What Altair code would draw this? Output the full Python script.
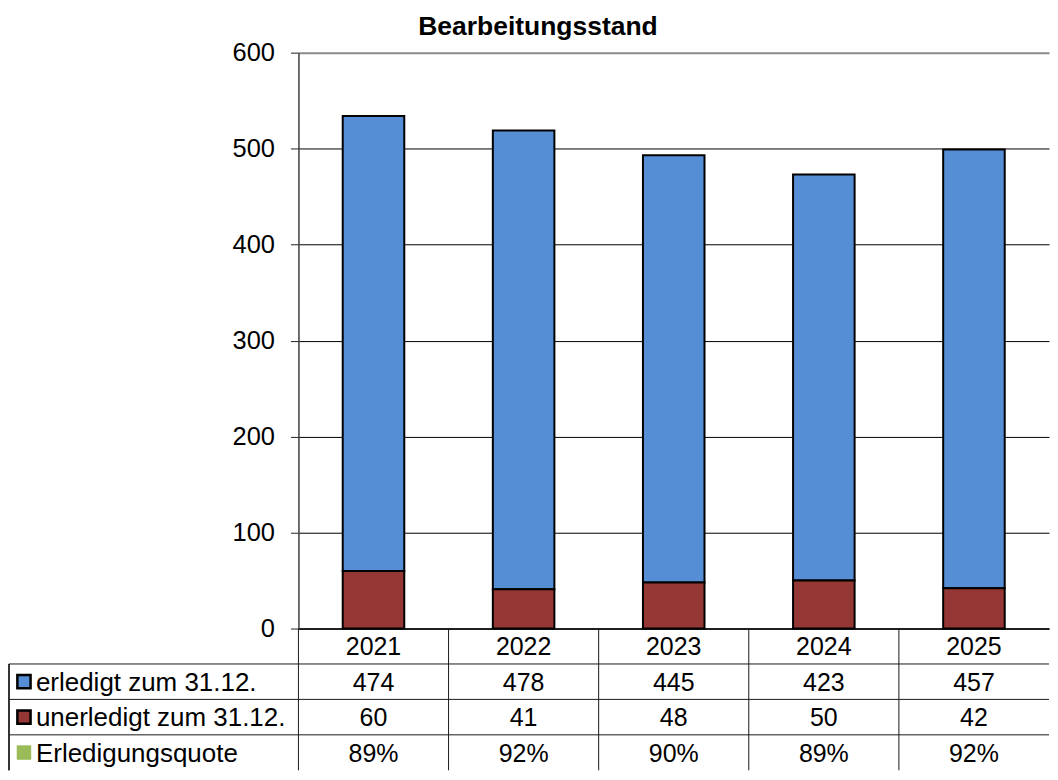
import altair as alt
import pandas as pd

# ---- data ----
years = ["2021", "2022", "2023", "2024", "2025"]
erledigt = [474, 478, 445, 423, 457]
unerledigt = [60, 41, 48, 50, 42]
quote = ["89%", "92%", "90%", "89%", "92%"]
series = ["erledigt zum 31.12.", "unerledigt zum 31.12.", "Erledigungsquote"]
colors = ["#558ED5", "#953735", "#9BBB59"]
chart_title = "Bearbeitungsstand"
y_ticks = [0, 100, 200, 300, 400, 500, 600]

FONT = "Liberation Sans"
W = 752
H = 577
ROW = 35.5
TH = ROW * 4
LEFT = 290
rows = ["Jahr"] + series

bars = pd.DataFrame({
    "year": years * 2,
    "series": [series[0]] * len(years) + [series[1]] * len(years),
    "value": erledigt + unerledigt,
    "order": [2] * len(years) + [1] * len(years),
})

color_scale = alt.Scale(domain=series, range=colors)

bar_chart = alt.Chart(bars).mark_bar(stroke="black", strokeWidth=2).encode(
    x=alt.X("year:N", sort=years,
            scale=alt.Scale(paddingInner=0.59, paddingOuter=0.295),
            axis=alt.Axis(labels=False, ticks=False, title=None,
                          domainColor="black", domainWidth=1.5, grid=False)),
    y=alt.Y("value:Q", stack="zero",
            scale=alt.Scale(domain=[0, 600], nice=False),
            axis=alt.Axis(values=y_ticks, title=None, grid=True,
                          gridColor={"condition": {"test": "datum.value === 600", "value": "#8a8a8a"}, "value": "#000000"},
                          gridWidth={"condition": {"test": "datum.value === 600", "value": 2}, "value": 1},
                          domainColor="#404040", domainWidth=1.5,
                          tickColor="#202020", tickSize=8, labelPadding=16,
                          labelFont=FONT, labelFontSize=25.5, labelColor="black")),
    color=alt.Color("series:N", scale=color_scale, legend=None),
    order=alt.Order("order:Q"),
).properties(width=W, height=H)

# ---- table ----
cell_rows, cell_years, cell_text = [], [], []
for i, yr in enumerate(years):
    for r, t in zip(rows, [yr, str(erledigt[i]), str(unerledigt[i]), quote[i]]):
        cell_rows.append(r)
        cell_years.append(yr)
        cell_text.append(t)
cells = pd.DataFrame({"row": cell_rows, "year": cell_years, "text": cell_text})

legend_df = pd.DataFrame({"series": series})
years_df = pd.DataFrame({"year": years})

xs = alt.Scale(domain=years, paddingInner=0, paddingOuter=0)
ys = alt.Scale(domain=rows, paddingInner=0, paddingOuter=0)
line_color = "#1a1a1a"

txt = alt.Chart(cells).mark_text(font=FONT, fontSize=25, color="black", baseline="middle", align="center", dy=1).encode(
    x=alt.X("year:N", scale=xs, axis=None),
    y=alt.Y("row:N", scale=ys, axis=None),
    text="text:N",
)

hlines = alt.Chart(legend_df).mark_rule(color=line_color, strokeWidth=1).encode(
    y=alt.Y("series:N", scale=ys, bandPosition=0, axis=None),
    x=alt.value(-LEFT),
    x2=alt.value(W),
)

vlines = alt.Chart(years_df).mark_rule(color=line_color, strokeWidth=1).encode(
    x=alt.X("year:N", scale=xs, bandPosition=0, axis=None),
    y=alt.value(0),
    y2=alt.value(TH),
)

left_border = alt.Chart(legend_df).mark_rule(color=line_color, strokeWidth=1).encode(
    x=alt.value(-LEFT),
    y=alt.value(ROW),
    y2=alt.value(TH),
)

squares_outlined = alt.Chart(legend_df).transform_filter(
    alt.datum.series != "Erledigungsquote"
).mark_point(shape="square", filled=False, size=175, stroke="black", strokeWidth=2.5, opacity=1, fillOpacity=1).encode(
    x=alt.value(-275),
    y=alt.Y("series:N", scale=ys, axis=None),
    fill=alt.Fill("series:N", scale=color_scale, legend=None),
)

squares_plain = alt.Chart(legend_df).transform_filter(
    alt.datum.series == "Erledigungsquote"
).mark_square(size=210, strokeWidth=0, opacity=1, fillOpacity=1).encode(
    x=alt.value(-275),
    y=alt.Y("series:N", scale=ys, axis=None),
    fill=alt.Fill("series:N", scale=color_scale, legend=None),
)

labels = alt.Chart(legend_df).mark_text(font=FONT, fontSize=26, color="black", align="left", baseline="middle", dy=1).encode(
    x=alt.value(-263),
    y=alt.Y("series:N", scale=ys, axis=None),
    text="series:N",
)

table = alt.layer(hlines, vlines, left_border, squares_outlined, squares_plain, labels, txt).properties(width=W, height=TH)

chart = alt.vconcat(
    bar_chart, table, spacing=0, bounds="flush",
    title=alt.TitleParams(chart_title, font=FONT, fontSize=26.5, fontWeight="bold",
                          color="black", anchor="middle", offset=3, dx=9, dy=3),
).properties(padding={"left": 0, "top": 5, "right": 0, "bottom": 0}).configure_view(stroke=None)

chart.save("out.html", embed_options={"renderer": "svg", "actions": False})
